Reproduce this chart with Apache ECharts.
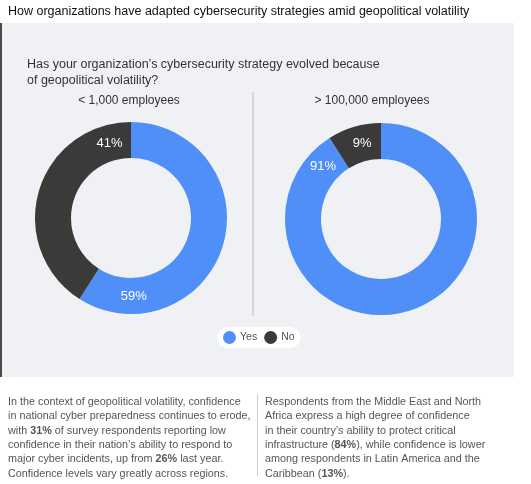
<!DOCTYPE html>
<html lang="en">
<head>
  <meta charset="UTF-8">
  <title>Cybersecurity strategies amid geopolitical volatility</title>
  <style>
    html, body { margin: 0; padding: 0; background: #fff; }
    #chart { width: 531px; height: 484px; }
  </style>
</head>
<body>
  <div id="chart"></div>
  <script src="https://cdn.jsdelivr.net/npm/echarts@6/dist/echarts.min.js"></script>
  <script>
  // answers
  var answers = ['Yes', 'No'];
  // company size groups
  var groups = ['< 1,000 employees', '> 100,000 employees'];
  // percentage of respondents, order follows answers
  var smallOrg = [59, 41];
  var largeOrg = [91, 9];

  var colors = ['#4f8ff7', '#3b3a39'];
  var font = '"Liberation Sans", Arial, sans-serif';

  var leftText = [
    'In the context of geopolitical volatility, confidence',
    'in national cyber preparedness continues to erode,',
    'with {b|31%} of survey respondents reporting low',
    'confidence in their nation\u2019s ability to respond to',
    'major cyber incidents, up from {b|26%} last year.',
    'Confidence levels vary greatly across regions.'
  ];
  var rightText = [
    'Respondents from the Middle East and North',
    'Africa express a high degree of confidence',
    'in their country\u2019s ability to protect critical',
    'infrastructure ({b|84%}), while confidence is lower',
    'among respondents in Latin America and the',
    'Caribbean ({b|13%}).'
  ];

  // donut geometry
  var centers = [[131, 218], [381, 219]];
  var rIn = 60, rOut = 96;
  // where each label sits on the ring (degrees clockwise from 12 o'clock)
  var labelAngles = [[178, 344], [312, 346]];

  function makePie(idx, values) {
    return {
      type: 'pie',
      name: groups[idx],
      center: centers[idx],
      radius: [rIn, rOut],
      startAngle: 90,
      clockwise: true,
      silent: true,
      label: {
        show: true,
        position: 'inside',
        formatter: '{c}%',
        color: '#fff',
        fontFamily: font,
        fontSize: 13
      },
      labelLine: { show: false },
      labelLayout: function (p) {
        var a = labelAngles[idx][p.dataIndex] * Math.PI / 180;
        var r = (rIn + rOut) / 2;
        return {
          x: centers[idx][0] + r * Math.sin(a),
          y: centers[idx][1] - r * Math.cos(a),
          align: 'center',
          verticalAlign: 'middle'
        };
      },
      itemStyle: { borderWidth: 0 },
      data: answers.map(function (a, i) {
        return { name: a, value: values[i], itemStyle: { color: colors[i] } };
      })
    };
  }

  var richB = { b: { fontWeight: 'bold', color: '#333', fontSize: 10.8, fontFamily: font } };

  var myChart = echarts.init(document.getElementById('chart'));
  var option = {
    backgroundColor: '#fff',
    animation: false,
    title: [
      {
        text: 'How organizations have adapted cybersecurity strategies amid geopolitical volatility',
        left: 8, top: 5, padding: 0,
        textStyle: { fontFamily: font, fontSize: 12.5, fontWeight: 'normal', color: '#111' }
      },
      {
        text: 'Has your organization\u2019s cybersecurity strategy evolved because\nof geopolitical volatility?',
        left: 27, top: 57, padding: 0,
        textStyle: { fontFamily: font, fontSize: 12.5, fontWeight: 'normal', color: '#333', lineHeight: 15.5 }
      },
      {
        text: groups[0], left: 129, top: 95, padding: 0, textAlign: 'center',
        textStyle: { fontFamily: font, fontSize: 12, fontWeight: 'normal', color: '#333' }
      },
      {
        text: groups[1], left: 372, top: 95, padding: 0, textAlign: 'center',
        textStyle: { fontFamily: font, fontSize: 12, fontWeight: 'normal', color: '#333' }
      }
    ],
    legend: {
      data: answers,
      left: 217, top: 327,
      backgroundColor: '#fff',
      borderRadius: 11,
      padding: [4, 6, 4, 6],
      itemGap: 7,
      itemWidth: 13, itemHeight: 13,
      icon: 'circle',
      selectedMode: false,
      textStyle: { fontFamily: font, fontSize: 10.5, color: '#555', padding: [0, 0, 0, -1] }
    },
    graphic: [
      { type: 'rect', z: -10, shape: { x: 0, y: 23, width: 514, height: 354 }, style: { fill: '#eff1f5' } },
      { type: 'rect', z: -9, shape: { x: 0, y: 23, width: 2, height: 354 }, style: { fill: '#4a4a4a' } },
      { type: 'line', shape: { x1: 253, y1: 92, x2: 253, y2: 316 }, style: { stroke: '#bdbdbd', lineWidth: 1 } },
      { type: 'line', shape: { x1: 257.5, y1: 394, x2: 257.5, y2: 476 }, style: { stroke: '#cfcfcf', lineWidth: 1 } },
      {
        type: 'text', left: 8, top: 395,
        style: { text: leftText.join('\n'), font: '10.8px ' + font, fill: '#555', lineHeight: 14.3, rich: richB }
      },
      {
        type: 'text', left: 265, top: 395,
        style: { text: rightText.join('\n'), font: '10.8px ' + font, fill: '#555', lineHeight: 14.3, rich: richB }
      }
    ],
    series: [makePie(0, smallOrg), makePie(1, largeOrg)]
  };
  myChart.setOption(option);
  </script>
</body>
</html>
